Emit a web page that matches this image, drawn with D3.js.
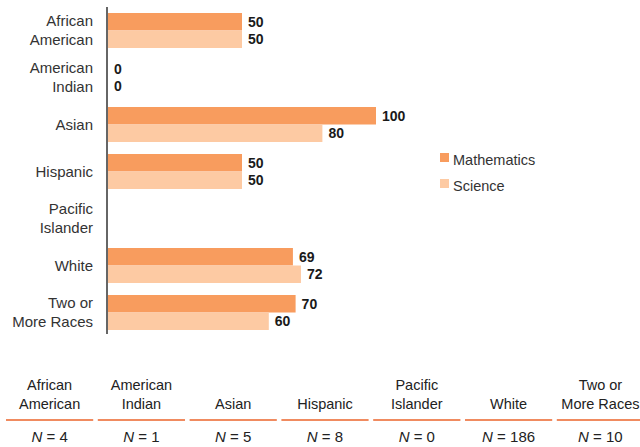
<!DOCTYPE html>
<html>
<head>
    <style>
        body {
            margin: 0;
            background: #fff;
            font-family: "Liberation Sans", Arial, sans-serif;
        }
    </style>
</head>
<body>
    <svg width="640" height="447"></svg>

    <script src="https://d3js.org/d3.v7.min.js"></script>
    <script>
        const svg = d3.select("svg");

        // data
        const categories = ["African American", "American Indian", "Asian", "Hispanic", "Pacific Islander", "White", "Two or More Races"];
        const labelLines = [["African", "American"], ["American", "Indian"], ["Asian"], ["Hispanic"], ["Pacific", "Islander"], ["White"], ["Two or", "More Races"]];
        const seriesNames = ["Mathematics", "Science"];
        const mathValues = [50, 0, 100, 50, null, 69, 70];
        const scienceValues = [50, 0, 80, 50, null, 72, 60];
        const nValues = [4, 1, 5, 8, 0, 186, 10];
        const colors = ["#f89c5e", "#fdcaa3"];

        // scales
        const x = d3.scaleLinear().domain([0, 100]).range([108, 376]);
        const y = d3.scaleBand().domain(categories).range([7, 336])
            .paddingInner(12 / 47).paddingOuter(6 / 47);
        const ySub = d3.scaleBand().domain(seriesNames).range([0, y.bandwidth()]);
        const color = d3.scaleOrdinal().domain(seriesNames).range(colors);

        const rows = [];
        categories.forEach((c, i) => {
            rows.push({ cat: c, series: "Mathematics", value: mathValues[i] });
            rows.push({ cat: c, series: "Science", value: scienceValues[i] });
        });
        const shown = rows.filter(d => d.value !== null);

        // bars
        svg.append("g")
            .selectAll("rect")
            .data(shown.filter(d => d.value > 0))
            .join("rect")
            .attr("x", x(0))
            .attr("y", d => y(d.cat) + ySub(d.series))
            .attr("width", d => x(d.value) - x(0))
            .attr("height", ySub.bandwidth())
            .attr("fill", d => color(d.series));

        // value labels
        svg.append("g")
            .selectAll("text")
            .data(shown)
            .join("text")
            .attr("x", d => x(d.value) + 6)
            .attr("y", d => y(d.cat) + ySub(d.series) + ySub.bandwidth() / 2 + 5)
            .attr("font-size", 14)
            .attr("font-weight", "bold")
            .attr("fill", "#1a1a1a")
            .text(d => d.value);

        // axis line
        svg.append("line")
            .attr("x1", 107).attr("x2", 107)
            .attr("y1", 7).attr("y2", 334)
            .attr("stroke", "#333")
            .attr("stroke-width", 1.5);

        // category labels
        const catLabel = svg.append("g")
            .selectAll("text")
            .data(categories)
            .join("text")
            .attr("text-anchor", "end")
            .attr("font-size", 15)
            .attr("fill", "#333");
        catLabel.each(function (c, i) {
            const lines = labelLines[i];
            const mid = y(c) + y.bandwidth() / 2;
            const start = lines.length === 1 ? mid + 5 : mid - 4.5;
            d3.select(this).selectAll("tspan")
                .data(lines)
                .join("tspan")
                .attr("x", 93)
                .attr("y", (d, j) => start + j * 19)
                .text(d => d);
        });

        // legend
        const legend = svg.append("g")
            .selectAll("g")
            .data(seriesNames)
            .join("g")
            .attr("transform", (d, i) => `translate(440,${153 + i * 26})`);
        legend.append("rect")
            .attr("width", 9).attr("height", 9)
            .attr("fill", d => color(d));
        legend.append("text")
            .attr("x", 13).attr("y", 12)
            .attr("font-size", 14.5)
            .attr("fill", "#333")
            .text(d => d);

        // N table below
        const col = d3.scaleBand().domain(categories).range([6, 644]).paddingInner(0.05);
        const table = svg.append("g")
            .selectAll("g")
            .data(categories)
            .join("g")
            .attr("transform", d => `translate(${col(d)},0)`);
        table.append("line")
            .attr("x1", 0).attr("x2", col.bandwidth())
            .attr("y1", 420).attr("y2", 420)
            .attr("stroke", "#f08b60")
            .attr("stroke-width", 2);
        table.append("text")
            .attr("text-anchor", "middle")
            .attr("font-size", 14.5)
            .attr("fill", "#222")
            .each(function (c, i) {
                const lines = labelLines[i];
                d3.select(this).selectAll("tspan")
                    .data(lines)
                    .join("tspan")
                    .attr("x", col.bandwidth() / 2)
                    .attr("y", (d, j) => 409 - (lines.length - 1 - j) * 19)
                    .text(d => d);
            });
        table.append("text")
            .attr("x", col.bandwidth() / 2)
            .attr("y", 442)
            .attr("text-anchor", "middle")
            .attr("font-size", 15)
            .attr("fill", "#222")
            .html((d, i) => `<tspan font-style="italic">N</tspan> = ${nValues[i]}`);
    </script>
</body>
</html>
